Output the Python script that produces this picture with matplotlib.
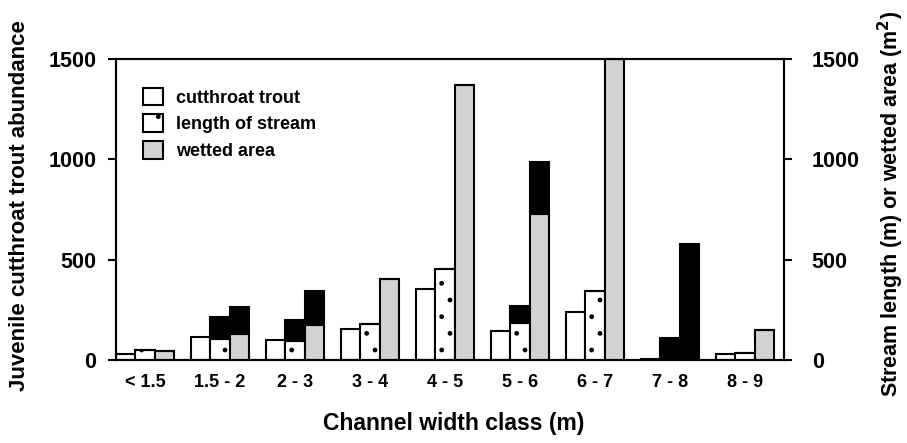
import matplotlib
matplotlib.use("Agg")
import matplotlib.pyplot as plt
import numpy as np
from matplotlib.patches import Patch

plt.rcParams['font.family'] = ['Liberation Sans', 'DejaVu Sans']
plt.rcParams['font.weight'] = 'bold'
plt.rcParams['hatch.linewidth'] = 1.0

categories = ["< 1.5", "1.5 - 2", "2 - 3", "3 - 4", "4 - 5", "5 - 6", "6 - 7", "7 - 8", "8 - 9"]
trout = [28, 115, 100, 156, 355, 143, 238, 6, 28]
stream_length = [50, 105, 95, 179, 453, 186, 345, 0, 33]
stream_length_black = [0, 110, 105, 0, 0, 85, 0, 111, 0]
wetted_area = [45, 130, 175, 403, 1370, 727, 1500, 0, 150]
wetted_area_black = [0, 135, 170, 0, 0, 258, 0, 578, 0]
left_ticks = [0, 500, 1000, 1500]
right_ticks = [0, 500, 1000, 1500]

fig = plt.figure(figsize=(9.07, 4.43), dpi=100)
ax = fig.add_axes([0.1279, 0.1874, 0.7365, 0.6795])
ax2 = ax.twinx()

x = np.arange(len(categories))
w = 0.255
lw = 1.5

ax.bar(x - w, trout, w, facecolor='white', edgecolor='black', linewidth=lw, zorder=2)
ax2.bar(x, stream_length, w, facecolor='white', edgecolor='black', hatch='.', linewidth=lw, zorder=2)
ax2.bar(x, stream_length_black, w, bottom=stream_length, facecolor='black', edgecolor='black', linewidth=lw, zorder=2)
ax2.bar(x + w, wetted_area, w, facecolor='#d2d2d2', edgecolor='black', linewidth=lw, zorder=2)
ax2.bar(x + w, wetted_area_black, w, bottom=wetted_area, facecolor='black', edgecolor='black', linewidth=lw, zorder=2)

for a in (ax, ax2):
    a.set_xlim(-0.387, 8.52)
    a.set_ylim(0, 1500)
    for s in a.spines.values():
        s.set_linewidth(1.5)

ax.set_yticks(left_ticks)
ax.set_yticklabels([str(t) for t in left_ticks], fontsize=15.5, fontweight='bold')
ax2.set_yticks(right_ticks)
ax2.set_yticklabels([str(t) for t in right_ticks], fontsize=15.5, fontweight='bold')
ax.tick_params(axis='y', direction='out', length=6, width=1.5, pad=8)
ax2.tick_params(axis='y', direction='out', length=6, width=1.5, pad=14)

ax.set_xticks(x)
ax.set_xticklabels(categories, fontsize=13, fontweight='bold')
ax.tick_params(axis='x', length=0, pad=10)

fig.text(20 / 907, 0.535, "Juvenile cutthroat trout abundance", rotation=90,
         ha='center', va='center', fontsize=16, fontweight='bold')
fig.text(891 / 907, 0.54, "Stream length (m) or wetted area (m$^\\mathbf{2}$)", rotation=90,
         ha='center', va='center', fontsize=15.5, fontweight='bold')
fig.text(0.5, 0.045, "Channel width class (m)", ha='center', va='center',
         fontsize=16.5, fontweight='bold')

handles = [
    Patch(facecolor='white', edgecolor='black', linewidth=lw),
    Patch(facecolor='white', edgecolor='black', hatch='.', linewidth=lw),
    Patch(facecolor='#d2d2d2', edgecolor='black', linewidth=lw),
]
labels = ["cutthroat trout", "length of stream", "wetted area"]
ax2.legend(handles, labels, loc='upper left', bbox_to_anchor=(0.04, 0.905),
           frameon=False, prop={'weight': 'bold', 'size': 13},
           handlelength=1.15, handleheight=1.15, labelspacing=0.42,
           handletextpad=0.7, borderpad=0, borderaxespad=0)

fig.savefig("out.png", dpi=100)
